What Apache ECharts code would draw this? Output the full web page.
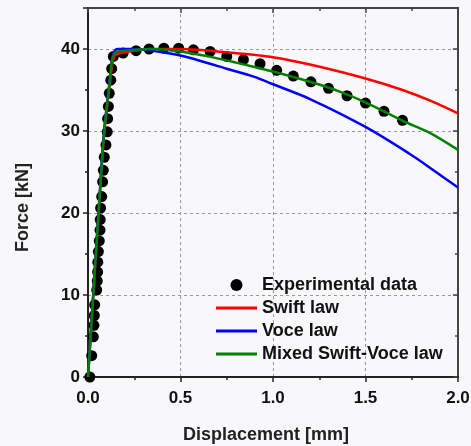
<!DOCTYPE html>
<html><head><meta charset="utf-8">
<script src="https://cdn.jsdelivr.net/npm/echarts@6/dist/echarts.min.js"></script>
<style>html,body{margin:0;padding:0;background:#f8f8fa;}#c{width:471px;height:446px;}</style>
</head><body><div id="c"></div>
<script>
const expData = [[0.01,0.0],[0.02,2.6],[0.029,4.9],[0.032,6.3],[0.034,7.5],[0.036,8.8],[0.047,10.6],[0.05,11.7],[0.052,12.8],[0.053,14.0],[0.056,15.3],[0.061,16.6],[0.065,17.9],[0.066,19.2],[0.068,20.6],[0.074,22.0],[0.079,23.8],[0.083,25.2],[0.088,26.8],[0.097,28.3],[0.104,29.9],[0.106,31.5],[0.11,33.0],[0.115,34.6],[0.123,36.2],[0.128,37.6],[0.137,39.1],[0.19,39.5],[0.26,39.8],[0.33,40.0],[0.41,40.1],[0.49,40.1],[0.57,39.9],[0.66,39.7],[0.75,39.1],[0.84,38.7],[0.93,38.2],[1.02,37.4],[1.11,36.7],[1.205,36.0],[1.30,35.2],[1.40,34.3],[1.50,33.4],[1.60,32.4],[1.70,31.3]];
const swiftData = [[0,0],[0.065,22.6],[0.088,29.8],[0.119,36.0],[0.135,38.6],[0.15,39.3],[0.2,39.6],[0.335,40.0],[0.5,40.0],[0.77,39.55],[1.0,39.0],[1.2,38.1],[1.5,36.4],[1.7,35.0],[1.85,33.7],[2.0,32.15]];
const voceData = [[0,0],[0.065,22.9],[0.088,30.2],[0.119,36.5],[0.13,38.8],[0.145,39.8],[0.16,40.0],[0.25,40.0],[0.4,39.6],[0.5,39.2],[0.6,38.6],[0.75,37.6],[0.9,36.6],[1.0,35.7],[1.2,33.9],[1.5,30.5],[1.74,27.2],[1.85,25.5],[2.0,23.1]];
const mixedData = [[0,0],[0.065,22.8],[0.088,30.0],[0.119,36.3],[0.13,38.7],[0.145,39.5],[0.16,39.7],[0.25,39.9],[0.335,40.0],[0.5,39.7],[0.65,39.1],[0.77,38.5],[0.9,37.8],[1.0,37.25],[1.2,36.0],[1.35,34.9],[1.5,33.5],[1.7,31.25],[1.85,29.75],[2.0,27.7]];
const seriesNames = ['Experimental data','Swift law','Voce law','Mixed Swift-Voce law'];

const FONT = 'Liberation Sans';
const axisCol = '#222';
const LINE_ICON = 'path://M0,0H41V3H0Z';
const chart = echarts.init(document.getElementById('c'), null, {renderer:'canvas'});
const lineSeries = (name, data, color) => ({
  name, type:'line', data, symbol:'none', showSymbol:false, smooth:0.3,
  lineStyle:{color, width:2.5}, itemStyle:{color}, z:3
});
chart.setOption({
  backgroundColor:'#f8f8fa',
  animation:false,
  grid:{left:88, right:13, top:8, bottom:69, outerBoundsMode:'none', containLabel:false},
  legend:{
    orient:'vertical', left:211, top:271, itemWidth:41, itemHeight:12, itemGap:5,
    symbolKeepAspect:true,
    textStyle:{fontFamily:FONT, fontWeight:'bold', fontSize:18, color:'#111'},
    data:[
      {name:seriesNames[0], icon:'circle'},
      {name:seriesNames[1], icon:LINE_ICON},
      {name:seriesNames[2], icon:LINE_ICON},
      {name:seriesNames[3], icon:LINE_ICON}
    ]
  },
  xAxis:[{
    type:'value', min:0, max:2, interval:0.5, position:'bottom',
    name:'Displacement [mm]', nameLocation:'middle', nameGap:49,
    nameTextStyle:{fontFamily:FONT, fontWeight:'bold', fontSize:18, color:'#222', padding:[0,14,0,0]},
    axisLine:{onZero:false, lineStyle:{color:axisCol, width:2}},
    axisTick:{show:true, inside:false, length:5, lineStyle:{color:axisCol, width:1.5}},
    minorTick:{show:true, splitNumber:2, length:3, lineStyle:{color:axisCol, width:1.5}},
    axisLabel:{fontFamily:FONT, fontWeight:'bold', fontSize:17, color:'#111', margin:13, formatter:v=>v.toFixed(1)},
    splitLine:{show:true, lineStyle:{color:'#999', type:[3,3], width:1}}
  },{
    type:'value', min:0, max:2, interval:0.5, position:'top',
    axisLine:{onZero:false, lineStyle:{color:'#444', width:2}},
    axisTick:{show:true, inside:true, length:5, lineStyle:{color:'#444', width:1.5}},
    minorTick:{show:true, splitNumber:2, length:3, lineStyle:{color:'#444', width:1.5}},
    axisLabel:{show:false}, splitLine:{show:false}
  }],
  yAxis:[{
    type:'value', min:0, max:45, interval:10, position:'left',
    name:'Force [kN]', nameLocation:'middle', nameGap:56, nameRotate:90,
    nameTextStyle:{fontFamily:FONT, fontWeight:'bold', fontSize:18, color:'#222', padding:[0,30,0,0]},
    axisLine:{onZero:false, lineStyle:{color:axisCol, width:2}},
    axisTick:{show:true, inside:false, length:5, lineStyle:{color:axisCol, width:1.5}},
    minorTick:{show:true, splitNumber:2, length:3, lineStyle:{color:axisCol, width:1.5}},
    axisLabel:{fontFamily:FONT, fontWeight:'bold', fontSize:17, color:'#111', margin:8, showMaxLabel:false},
    splitLine:{show:true, lineStyle:{color:'#999', type:[3,3], width:1}}
  },{
    type:'value', min:0, max:45, interval:10, position:'right',
    axisLine:{onZero:false, lineStyle:{color:'#444', width:2}},
    axisTick:{show:true, inside:true, length:5, lineStyle:{color:'#444', width:1.5}},
    minorTick:{show:true, splitNumber:2, length:3, lineStyle:{color:'#444', width:1.5}},
    axisLabel:{show:false}, splitLine:{show:false}
  }],
  series:[
    {name:seriesNames[0], type:'scatter', data:expData, symbol:'circle', symbolSize:11, itemStyle:{color:'#000', opacity:1}, z:2},
    lineSeries(seriesNames[1], swiftData, '#ff0000'),
    lineSeries(seriesNames[2], voceData, '#0000ff'),
    lineSeries(seriesNames[3], mixedData, '#008000')
  ]
});
</script></body></html>
